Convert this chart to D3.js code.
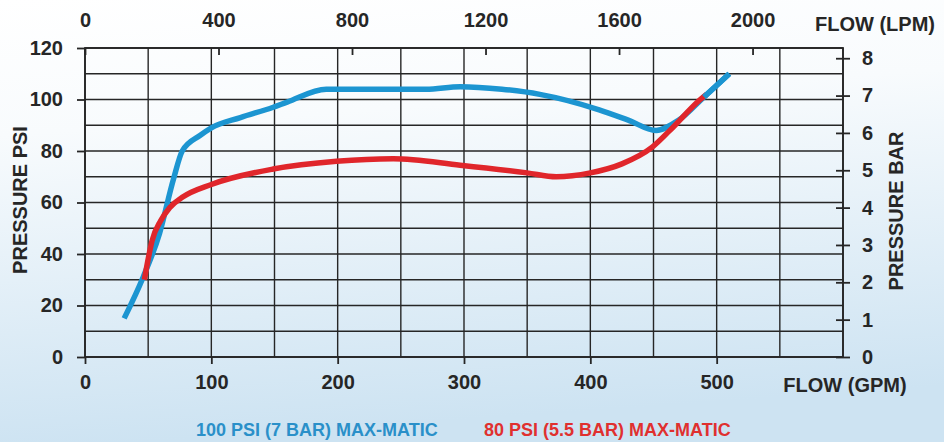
<html>
<head>
<meta charset="utf-8"/>
<style>
  body { margin: 0; }
  text { font-family: "Liberation Sans", Arial, sans-serif; font-weight: bold; }
</style>
</head>
<body>
<svg></svg>
<script src="https://d3js.org/d3.v7.min.js"></script>
<script>
// flow in GPM, pressure in PSI
var blueGpm = [31, 46, 59, 70, 77, 91, 100, 123, 149, 160, 191, 244, 270, 297, 330, 360, 407, 430, 452, 470, 490, 510];
var bluePsi = [15, 31, 48, 69, 80, 86, 89, 93, 97, 99, 104, 104, 104, 105, 104, 102, 96, 92, 88, 92, 101, 110];
var redGpm = [47, 50, 53, 60, 67, 77, 100, 149, 199, 244, 297, 350, 373, 400, 425, 449, 463, 487, 492];
var redPsi = [30, 38, 45, 53, 58, 62, 67, 73, 76, 77, 74.5, 71.5, 70, 71.5, 75, 81.5, 88, 100, 102];

var gpmTicks = [0, 100, 200, 300, 400, 500];
var lpmTicks = [0, 400, 800, 1200, 1600, 2000];
var psiTicks = [0, 20, 40, 60, 80, 100, 120];
var barTicks = [0, 1, 2, 3, 4, 5, 6, 7, 8];
var legendLabels = ["100 PSI (7 BAR) MAX-MATIC", "80 PSI (5.5 BAR) MAX-MATIC"];

var W = 944, H = 442;
var margin = {top: 48, right: 101, bottom: 85, left: 85};
var width = W - margin.left - margin.right;
var height = H - margin.top - margin.bottom;

var svg = d3.select("svg").attr("width", W).attr("height", H);

var defs = svg.append("defs");
var grad = defs.append("linearGradient").attr("id", "bg")
  .attr("x1", 0).attr("y1", 0).attr("x2", 0.15).attr("y2", 1);
grad.append("stop").attr("offset", "0%").attr("stop-color", "#ffffff");
grad.append("stop").attr("offset", "30%").attr("stop-color", "#f8fbfd");
grad.append("stop").attr("offset", "100%").attr("stop-color", "#cde3f2");
svg.append("rect").attr("width", W).attr("height", H).attr("fill", "url(#bg)");

var chart = svg.append("g")
  .attr("transform", "translate(" + margin.left + "," + margin.top + ")");

var x = d3.scaleLinear().domain([0, 600]).range([0, width]);
var xl = d3.scaleLinear().domain([0, 600 * 3.785]).range([0, width]);
var y = d3.scaleLinear().domain([0, 120]).range([height, 0]);
var yb = d3.scaleLinear().domain([0, 120 / 14.5038]).range([height, 0]);

var ink = "#262626";
var fmt = d3.format("d");

// grid
chart.append("g").selectAll("line").data(d3.range(0, 121, 10)).enter().append("line")
  .attr("x1", 0).attr("x2", width)
  .attr("y1", function(d) { return y(d); }).attr("y2", function(d) { return y(d); })
  .attr("stroke", ink).attr("stroke-width", 1.4);
chart.append("g").selectAll("line").data(d3.range(0, 601, 50)).enter().append("line")
  .attr("y1", 0).attr("y2", height)
  .attr("x1", function(d) { return x(d); }).attr("x2", function(d) { return x(d); })
  .attr("stroke", ink).attr("stroke-width", 1.4);

// frame
chart.append("rect").attr("width", width).attr("height", height)
  .attr("fill", "none").attr("stroke", ink).attr("stroke-width", 1.8);

function styleAxis(g) {
  g.select(".domain").remove();
  g.selectAll("line").attr("stroke", ink).attr("stroke-width", 1.8);
  g.selectAll("text").attr("fill", ink).style("font-size", "20px")
    .style("font-family", "'Liberation Sans', Arial, sans-serif").style("font-weight", "bold");
}

chart.append("g")
  .call(d3.axisLeft(y).tickValues(psiTicks).tickFormat(fmt).tickSize(8).tickPadding(14))
  .call(styleAxis);

chart.append("g").attr("transform", "translate(0," + height + ")")
  .call(d3.axisBottom(x).tickValues(gpmTicks).tickFormat(fmt).tickSize(7).tickPadding(11))
  .call(styleAxis);

var rightAxis = chart.append("g").attr("transform", "translate(" + width + ",0)")
  .call(d3.axisRight(yb).tickValues(barTicks).tickFormat(fmt).tickSize(7).tickPadding(12))
  .call(styleAxis);
rightAxis.selectAll("line").attr("x1", -7);

var topAxis = chart.append("g")
  .call(d3.axisTop(xl).tickValues(lpmTicks).tickFormat(fmt).tickSize(5).tickPadding(16))
  .call(styleAxis);
topAxis.selectAll("line").attr("y2", 7);

// curves
var line = d3.line()
  .x(function(d) { return x(d[0]); })
  .y(function(d) { return y(d[1]); })
  .curve(d3.curveMonotoneX);

chart.append("path").datum(d3.zip(blueGpm, bluePsi))
  .attr("d", line).attr("fill", "none")
  .attr("stroke", "#1c95d1").attr("stroke-width", 5.5).attr("stroke-linejoin", "round");
chart.append("path").datum(d3.zip(redGpm, redPsi))
  .attr("d", line).attr("fill", "none")
  .attr("stroke", "#e0262b").attr("stroke-width", 5.5).attr("stroke-linejoin", "round");
// blue tip drawn over red
chart.append("path").datum(d3.zip(blueGpm.slice(-2), bluePsi.slice(-2)))
  .attr("d", line).attr("fill", "none")
  .attr("stroke", "#1c95d1").attr("stroke-width", 5.5);

// axis titles
svg.append("text").attr("x", 875).attr("y", 24).attr("dy", "0.35em")
  .attr("text-anchor", "middle").attr("fill", ink).style("font-size", "20px")
  .text("FLOW (LPM)");
svg.append("text").attr("x", 845).attr("y", 385).attr("dy", "0.35em")
  .attr("text-anchor", "middle").attr("fill", ink).style("font-size", "20px")
  .text("FLOW (GPM)");
svg.append("text").attr("transform", "translate(20,200) rotate(-90)").attr("dy", "0.35em")
  .attr("text-anchor", "middle").attr("fill", ink).style("font-size", "20px")
  .text("PRESSURE PSI");
svg.append("text").attr("transform", "translate(896,211) rotate(-90)").attr("dy", "0.35em")
  .attr("text-anchor", "middle").attr("fill", ink).style("font-size", "20px")
  .text("PRESSURE BAR");

// legend
var legendX = [196, 484];
var legendColors = ["#2a90c9", "#e0302f"];
svg.selectAll(".legend").data(legendLabels).enter().append("text")
  .attr("class", "legend")
  .attr("x", function(d, i) { return legendX[i]; })
  .attr("y", 430).attr("dy", "0.35em")
  .attr("fill", function(d, i) { return legendColors[i]; })
  .style("font-size", "18px")
  .text(function(d) { return d; });
</script>
</body>
</html>
